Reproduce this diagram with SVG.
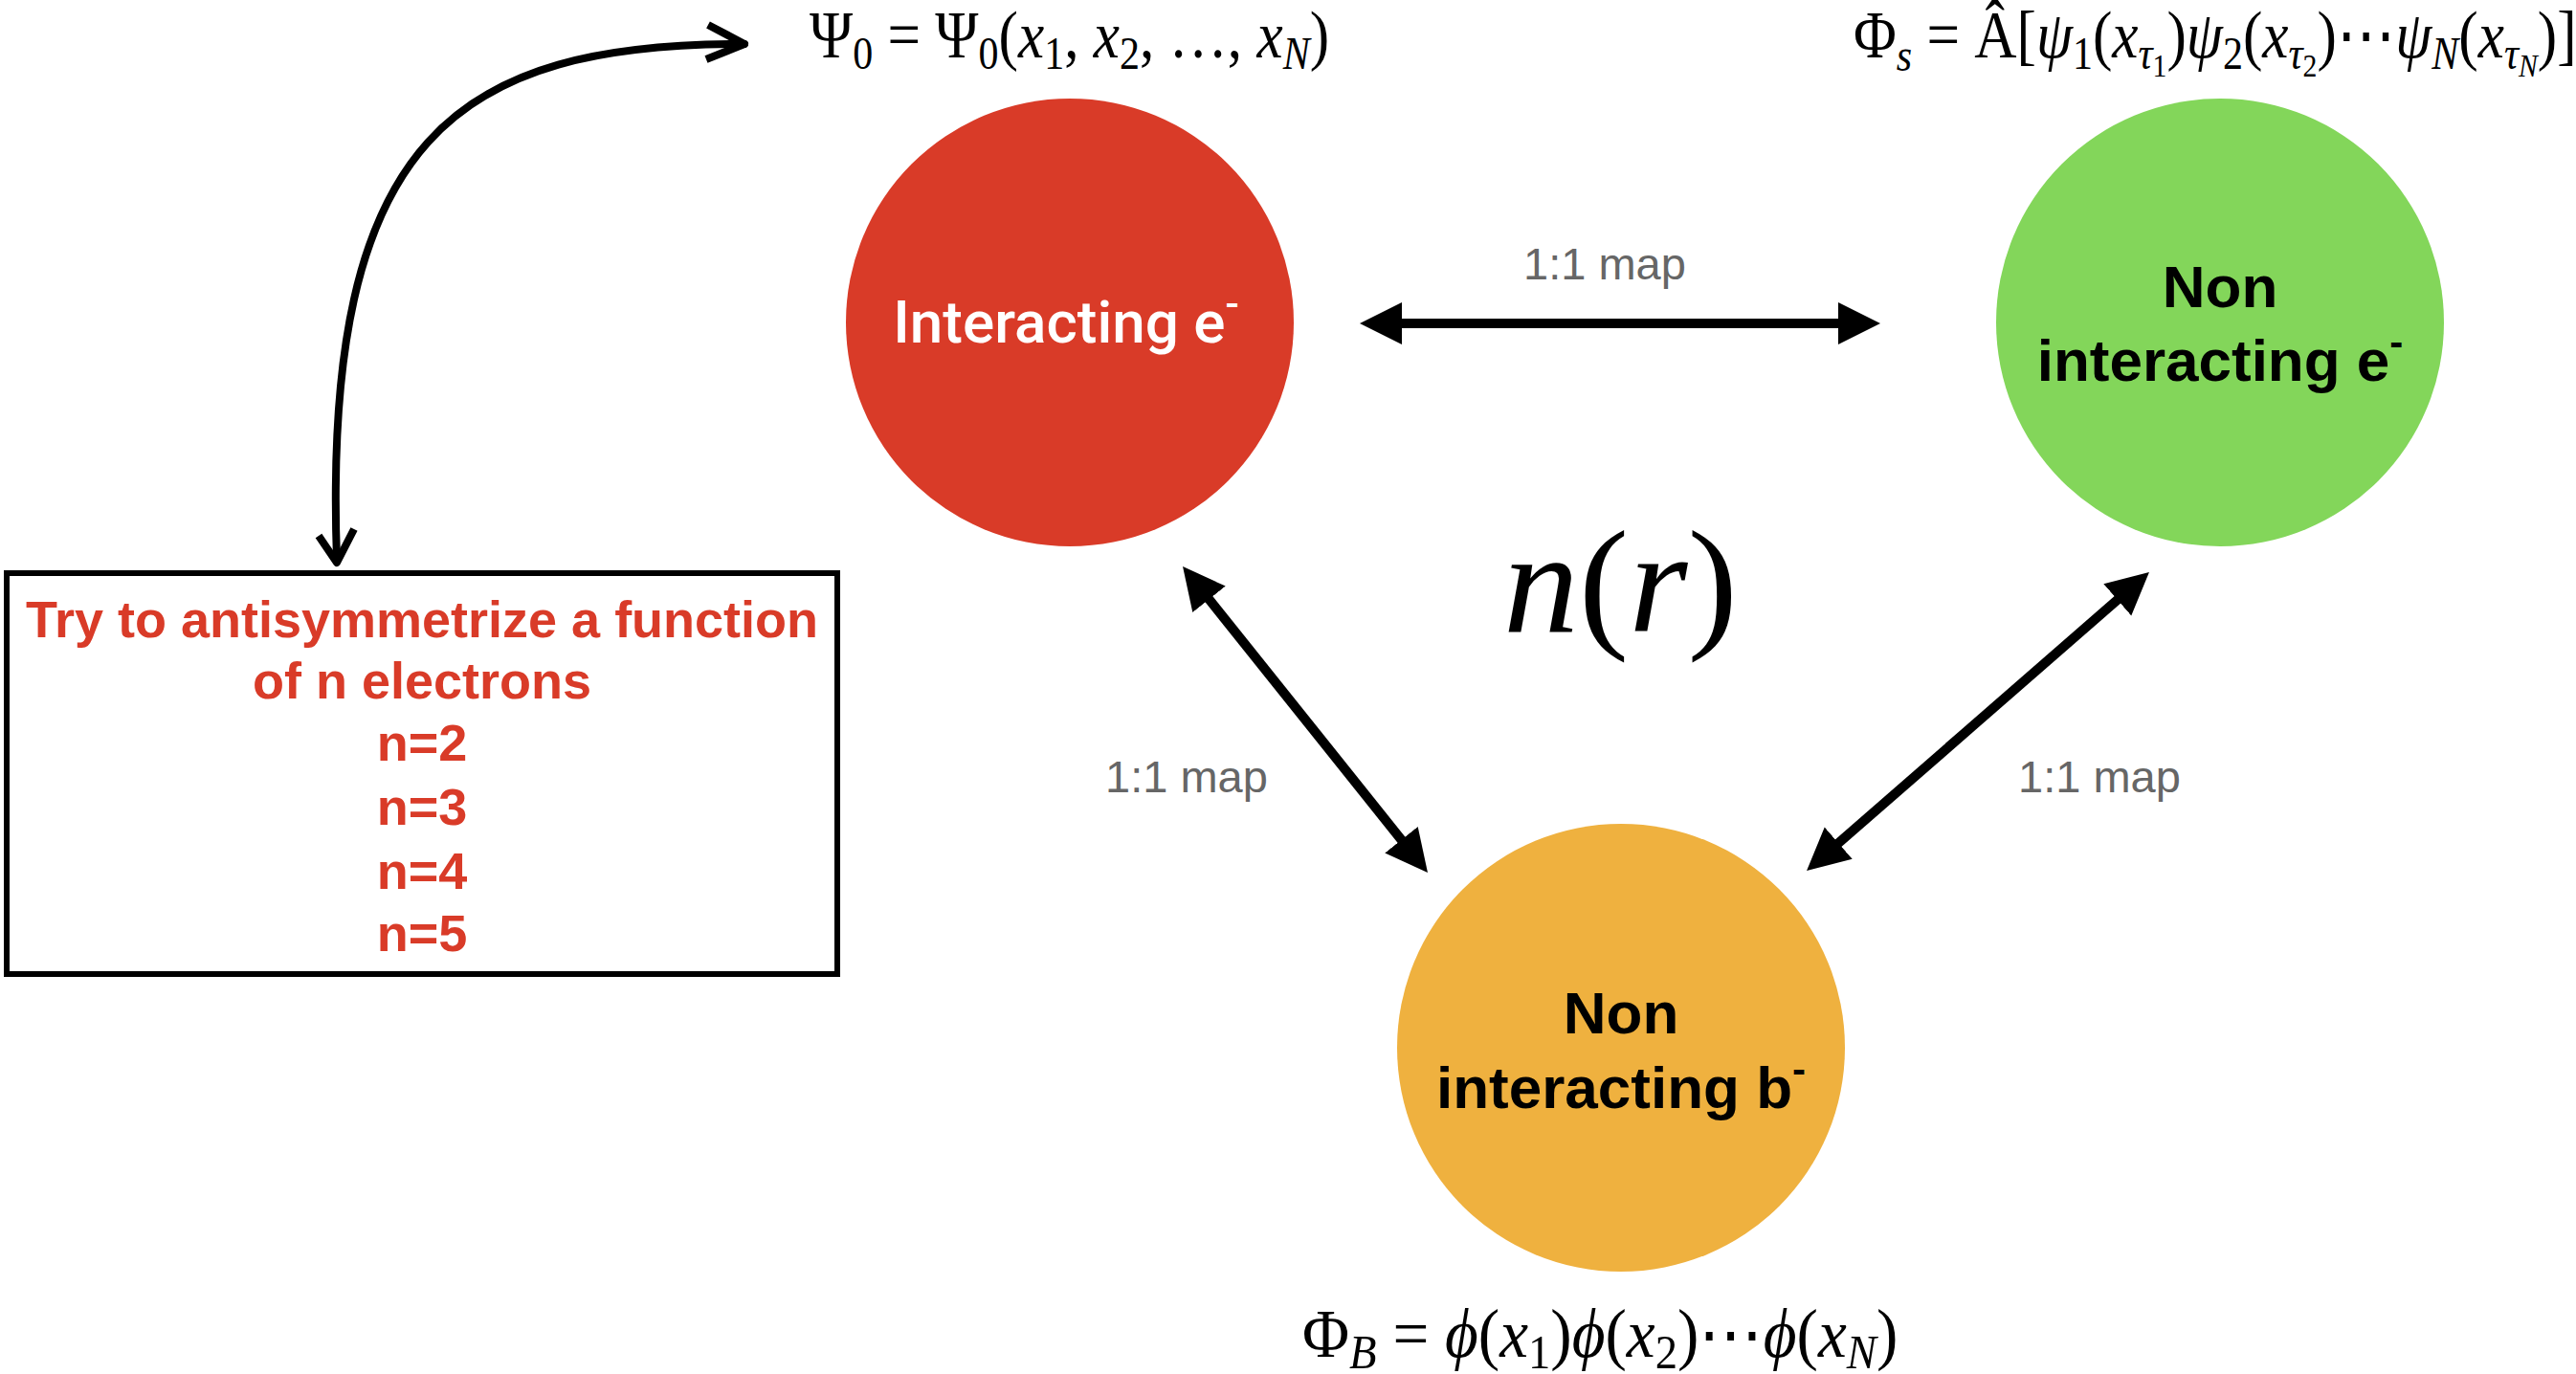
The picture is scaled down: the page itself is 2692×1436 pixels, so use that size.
<svg xmlns="http://www.w3.org/2000/svg" width="2692" height="1436" viewBox="0 0 2692 1436">
<style>
.node-label{font-family:"Liberation Sans",Arial,sans-serif;font-size:62px;text-anchor:middle}
.map{font-family:"Liberation Sans",Arial,sans-serif;font-size:47px;fill:#666;text-anchor:middle}
.box-text{font-family:"Liberation Sans",Arial,sans-serif;font-size:54px;font-weight:bold;fill:#D93B28;text-anchor:middle}
.math{font-family:"Liberation Serif","Times New Roman",serif;fill:#000}
.it{font-style:italic}
.conn{stroke:#000;stroke-width:10;fill:none}
</style>
<defs>
<marker id="ah" markerUnits="userSpaceOnUse" markerWidth="50" markerHeight="50" viewBox="0 -25 50 50" refX="4" refY="0" orient="auto-start-reverse">
<path d="M0,-22 L44,0 L0,22 z" fill="#000"/>
</marker>
</defs>
<rect width="2692" height="1436" fill="#fff"/>

<g id="connectors">
<line class="conn" x1="1461" y1="338" x2="1925" y2="338" marker-start="url(#ah)" marker-end="url(#ah)"/>
<line class="conn" x1="1261" y1="623.2" x2="1467" y2="880.8" marker-start="url(#ah)" marker-end="url(#ah)"/>
<line class="conn" x1="2215.8" y1="624.3" x2="1918.2" y2="883.7" marker-start="url(#ah)" marker-end="url(#ah)"/>
<path d="M352,585 C336,140 480,46 778,46" stroke="#000" stroke-width="8" fill="none" stroke-linecap="round"/>
<polyline points="740,26 778,46 738,62" stroke="#000" stroke-width="8" fill="none" stroke-linejoin="round"/>
<polyline points="333,560 352,588 370,553" stroke="#000" stroke-width="8" fill="none" stroke-linejoin="round"/>
</g>

<g id="label-map-top"><text class="map" x="1677" y="292">1:1 map</text></g>
<g id="label-map-left"><text class="map" x="1240" y="828">1:1 map</text></g>
<g id="label-map-right"><text class="map" x="2194" y="828">1:1 map</text></g>

<g id="node-interacting">
<circle cx="1118" cy="337" r="234" fill="#D93B28"/>
<text class="node-label" x="1114" y="358" fill="#fff" style="font-family:Roboto,'Liberation Sans',sans-serif;font-weight:500;font-size:62px">Interacting e<tspan style="font-size:42px" dy="-26">-</tspan></text>
</g>

<g id="node-noninteracting-e">
<circle cx="2320" cy="337" r="234" fill="#83D65A"/>
<text class="node-label" x="2320" y="321" font-weight="bold">Non</text>
<text class="node-label" x="2320" y="398" font-weight="bold">interacting e<tspan style="font-size:42px" dy="-26">-</tspan></text>
</g>

<g id="node-noninteracting-b">
<circle cx="1694" cy="1095" r="234" fill="#EFB13F"/>
<text class="node-label" x="1694" y="1080" font-weight="bold">Non</text>
<text class="node-label" x="1694" y="1158" font-weight="bold">interacting b<tspan style="font-size:42px" dy="-26">-</tspan></text>
</g>

<g id="density">
<text class="math" x="1571" y="660" style="font-size:152px" textLength="245" lengthAdjust="spacingAndGlyphs"><tspan class="it">n</tspan>(<tspan class="it">r</tspan>)</text>
</g>

<g id="box">
<rect x="7" y="599" width="868" height="419" fill="#fff" stroke="#000" stroke-width="6"/>
<text class="box-text" x="441" y="666">Try to antisymmetrize a function</text>
<text class="box-text" x="441" y="730">of n electrons</text>
<text class="box-text" x="441" y="795">n=2</text>
<text class="box-text" x="441" y="862">n=3</text>
<text class="box-text" x="441" y="929">n=4</text>
<text class="box-text" x="441" y="994">n=5</text>
</g>

<g id="formula-psi" transform="translate(846,60) scale(0.875,1)">
<text class="math" x="0" y="0" style="font-size:70px">Ψ<tspan style="font-size:48px" dy="12">0</tspan><tspan dy="-12"> = Ψ</tspan><tspan style="font-size:48px" dy="12">0</tspan><tspan dy="-12">(</tspan><tspan class="it">x</tspan><tspan style="font-size:48px" dy="12">1</tspan><tspan dy="-12">, </tspan><tspan class="it">x</tspan><tspan style="font-size:48px" dy="12">2</tspan><tspan dy="-12">, …, </tspan><tspan class="it">x</tspan><tspan style="font-size:48px" dy="12" class="it">N</tspan><tspan dy="-12">)</tspan></text>
</g>

<g id="formula-phis" transform="translate(1937,60) scale(0.875,1)">
<text class="math" x="0" y="0" style="font-size:70px">Φ<tspan style="font-size:48px" dy="14" class="it">s</tspan><tspan dy="-14"> = Â[</tspan><tspan class="it">ψ</tspan><tspan style="font-size:48px" dy="12">1</tspan><tspan dy="-12">(</tspan><tspan class="it">x</tspan><tspan style="font-size:48px" dy="12" class="it">τ</tspan><tspan style="font-size:34px" dy="8">1</tspan><tspan dy="-20">)</tspan><tspan class="it">ψ</tspan><tspan style="font-size:48px" dy="12">2</tspan><tspan dy="-12">(</tspan><tspan class="it">x</tspan><tspan style="font-size:48px" dy="12" class="it">τ</tspan><tspan style="font-size:34px" dy="8">2</tspan><tspan dy="-20">)⋯</tspan><tspan class="it">ψ</tspan><tspan style="font-size:48px" dy="12" class="it">N</tspan><tspan dy="-12">(</tspan><tspan class="it">x</tspan><tspan style="font-size:48px" dy="12" class="it">τ</tspan><tspan style="font-size:34px" dy="8" class="it">N</tspan><tspan dy="-20">)]</tspan></text>
</g>

<g id="formula-phib" transform="translate(1361,1418) scale(0.933,1)">
<text class="math" x="0" y="0" style="font-size:72px">Φ<tspan style="font-size:50px" dy="12" class="it">B</tspan><tspan dy="-12"> = </tspan><tspan class="it">ϕ</tspan>(<tspan class="it">x</tspan><tspan style="font-size:50px" dy="12">1</tspan><tspan dy="-12">)</tspan><tspan class="it">ϕ</tspan>(<tspan class="it">x</tspan><tspan style="font-size:50px" dy="12">2</tspan><tspan dy="-12">)⋯</tspan><tspan class="it">ϕ</tspan>(<tspan class="it">x</tspan><tspan style="font-size:50px" dy="12" class="it">N</tspan><tspan dy="-12">)</tspan></text>
</g>
</svg>
